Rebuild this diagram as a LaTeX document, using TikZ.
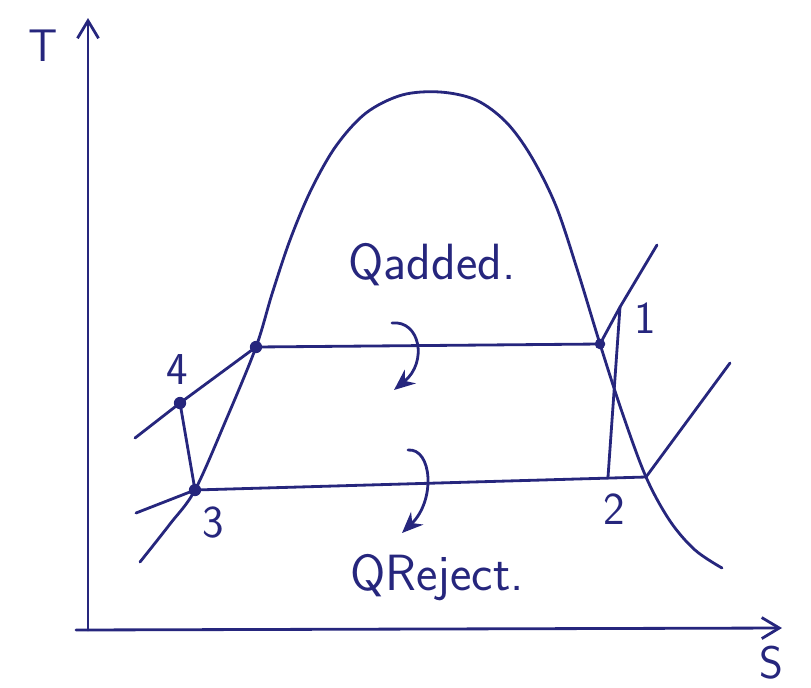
\documentclass[tikz,border=0pt]{standalone}
\usetikzlibrary{arrows.meta}
\definecolor{ink}{RGB}{38,38,125}
\begin{document}
\begin{tikzpicture}[x=0.02cm,y=-0.02cm,
  pen/.style={draw=ink,line width=1.6pt,line cap=round,line join=round},
  lbl/.style={text=ink,font=\sffamily\fontsize{26}{30}\selectfont,inner sep=0pt},
  qlbl/.style={lbl,font=\sffamily\fontsize{29}{33}\selectfont},
  dot/.style={circle,fill=ink,inner sep=0pt,minimum size=7pt},
  heat/.style={pen,-{Stealth[length=12pt,width=10pt]}}]
\useasboundingbox (0,0) rectangle (811,687);
% axes
\coordinate (O) at (88,630);
\coordinate (Ttop) at (88,18);
\coordinate (Send) at (782,628);
\coordinate (Oleft) at (76,630);
\draw[pen,-{Straight Barb[length=10pt,width=12pt]}] (O) -- (Ttop);
\draw[pen,-{Straight Barb[length=10pt,width=12pt]}] (Oleft) -- (Send);
\node[lbl] (T) at (43,46) {T};
\node[lbl] (S) at (771,663) {S};
% state points
\coordinate (p1) at (620,307);
\coordinate (p2) at (608,477);
\coordinate (p3) at (195,490);
\coordinate (p4) at (180,403);
\coordinate (f) at (256,347);
\coordinate (g) at (600,344);
\coordinate (g2) at (646,477);
% saturation dome
\draw[pen] plot[smooth,tension=0.55] coordinates {(140,562) (170,524) (p3) (226,420) (f) (272,294) (290,240) (311,190) (336,146) (366,113) (402,95) (440,92) (476,100) (506,122) (531,156) (556,206) (578,272) (g) (622,412) (g2) (670,521) (695,550) (722,568)};
% isobars
\draw[pen] (135,438) -- (p4) -- (f);
\draw[pen] (f) -- (g);
\draw[pen] (g) -- (p1) -- (657,245);
\draw[pen] (136,513) -- (p3);
\draw[pen] (p3) -- (g2);
\draw[pen] (g2) -- (730,363);
% processes
\draw[pen] (p4) -- (p3);
\draw[pen] (p1) -- (p2);
% dots
\node[dot] (d4) at (p4) {};
\node[dot] (d3) at (p3) {};
\node[dot] (df) at (f) {};
\node[dot,minimum size=6pt] (dg) at (g) {};
% labels
\node[lbl] (l4) at (177,370) {4};
\node[lbl] (l1) at (645,318) {1};
\node[lbl] (l3) at (213,523) {3};
\node[lbl] (l2) at (614,509) {2};
\node[qlbl] (qa) at (432,265) {Qadded.};
\node[qlbl] (qr) at (437,578) {QReject.};
% heat arrows
\coordinate (a1s) at (392,323);
\coordinate (a1e) at (394,390);
\coordinate (a2s) at (408,450);
\coordinate (a2e) at (402,533);
\draw[heat] (a1s) .. controls (420,320) and (428,362) .. (a1e);
\draw[heat] (a2s) .. controls (432,448) and (436,500) .. (a2e);
\end{tikzpicture}
\end{document}
